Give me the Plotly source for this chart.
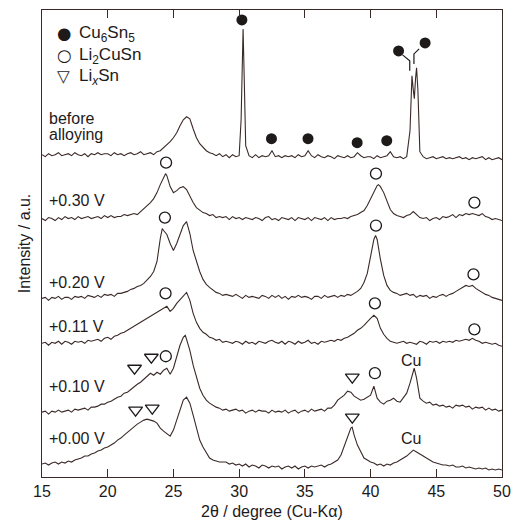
import numpy as np
import plotly.graph_objects as go

# ---------------- data ----------------
# common 2-theta sampling grid (degrees), 0.25 deg step
two_theta = np.round(np.arange(15.0, 50.0 + 1e-9, 0.25), 2)

labels = ["before", "+0.30 V", "+0.20 V", "+0.11 V", "+0.10 V", "+0.00 V"]
offsets = [318, 255, 176, 131, 62, 6]          # vertical stacking offsets (a.u.)
label_y = [359, 277, 195, 151, 91, 39]           # label heights (a.u.)

I_before = [
    5, 3, 6, 4,  5, 7, 4, 5,  6, 4, 7, 5,  4, 6, 3, 6,  5, 7, 5, 6,
    6, 4, 7, 5,  6, 4, 6, 7,  5, 6, 8, 5,  6, 7, 5, 8,  9, 12, 14, 18,
    22, 27, 34, 40,  43, 41, 31, 22,  16, 12, 9, 7,  6, 4, 6, 3,  5, 2, 5, 3,
    4, 110, 14, 4,  2, 5, 2, 4,  3, 4, 9, 3,  4, 2, 4, 3,  4, 2, 5, 3,
    4, 9, 4, 2,  5, 3, 2, 4,  3, 1, 4, 3,  2, 4, 2, 3,  7, 4, 2, 3,
    3, 1, 4, 2,  3, 4, 8, 3,  2, 3, 1, 3,  29, 70, 92, 8,  3, 1, 2, 3,
    1, 2, 3, 1,  2, 1, 2, 3,  1, 2, 0, 2,  1, 2, 3, 0,  2, 0, 1, 2,  0]
extra_tt_before = [30.15, 30.3, 30.38, 43.1, 43.15, 43.33, 43.42, 43.6, 43.68]
extra_I_before = [40, 131, 85, 74, 84, 61, 81, 70, 30]

I_030 = [
    4, 2, 5, 4,  2, 5, 3, 6,  4, 5, 3, 6,  4, 5, 6, 4,  5, 6, 4, 7,
    5, 7, 5, 6,  6, 8, 7, 8,  9, 8, 11, 13,  17, 20, 24, 30,  38, 45, 47, 36,
    30, 32, 35, 36,  33, 26, 20, 15,  12, 10, 9, 7,  8, 5, 6, 5,  6, 3, 6, 4,
    5, 3, 5, 4,  3, 5, 4, 2,  5, 6, 3, 4,  2, 5, 4, 3,  5, 2, 5, 4,
    3, 5, 2, 5,  4, 3, 5, 2,  5, 3, 4, 4,  5, 4, 6, 7,  8, 10, 12, 17,
    24, 31, 37, 36,  30, 21, 13, 9,  7, 6, 5, 7,  8, 11, 8, 5,  4, 5, 2, 4,
    5, 3, 6, 5,  6, 8, 5, 8,  7, 9, 8, 9,  8, 7, 9, 6,  5, 3, 4, 3,  2]
extra_tt_030 = [24.4, 40.6]
extra_I_030 = [49, 38]

I_020 = [
    3, 4, 1, 4,  3, 5, 2, 4,  4, 2, 5, 4,  5, 3, 6, 5,  4, 6, 4, 7,
    6, 7, 5, 8,  8, 9, 10, 12,  13, 15, 16, 18,  21, 25, 30, 40,  63, 71, 67, 58,
    51, 58, 68, 76,  80, 68, 51, 40,  30, 22, 17, 14,  11, 9, 8, 6,  7, 6, 5, 7,
    5, 3, 6, 4,  5, 4, 3, 6,  5, 3, 6, 4,  6, 3, 5, 2,  5, 4, 6, 4,
    5, 4, 2, 5,  5, 3, 6, 4,  5, 6, 4, 6,  5, 7, 6, 8,  10, 13, 19, 28,
    46, 62, 62, 42,  26, 16, 11, 9,  8, 6, 7, 8,  6, 7, 4, 6,  5, 6, 3, 5,
    4, 6, 7, 5,  7, 8, 10, 12,  14, 16, 15, 16,  13, 11, 9, 7,  6, 4, 3, 2,  1]
extra_tt_020 = [24.15, 40.38]
extra_I_020 = [73, 66]

I_011 = [
    3, 4, 1, 4,  3, 5, 2, 5,  4, 2, 5, 4,  5, 3, 6, 5,  6, 7, 5, 8,
    9, 7, 10, 11,  13, 14, 16, 18,  20, 22, 24, 26,  28, 30, 32, 34,  36, 38, 40, 35,
    38, 43, 47, 51,  54, 46, 33, 24,  18, 14, 12, 9,  8, 6, 7, 4,  5, 4, 3, 5,
    4, 2, 5, 3,  4, 2, 5, 4,  3, 5, 6, 4,  3, 5, 2, 5,  4, 2, 5, 3,
    4, 6, 3, 4,  2, 5, 4, 5,  6, 5, 7, 6,  8, 9, 11, 13,  16, 18, 21, 25,
    28, 31, 28, 18,  12, 8, 5, 4,  3, 4, 5, 3,  4, 3, 2, 5,  4, 2, 5, 4,
    5, 3, 5, 4,  5, 4, 6, 5,  6, 7, 6, 8,  6, 5, 3, 4,  3, 2, 3, 1,  0]

I_010 = [
    3, 4, 1, 4,  3, 5, 3, 4,  5, 3, 6, 5,  6, 7, 5, 8,  8, 9, 11, 11,
    13, 14, 16, 18,  19, 22, 23, 26,  28, 31, 33, 36,  38, 42, 40, 43,  41, 45, 47, 41,
    47, 60, 70, 78,  76, 65, 50, 38,  27, 20, 15, 12,  10, 8, 7, 5,  6, 4, 5, 6,
    4, 5, 2, 4,  5, 3, 5, 4,  4, 2, 5, 3,  4, 3, 5, 2,  4, 5, 2, 4,
    5, 3, 6, 4,  5, 6, 4, 7,  7, 10, 15, 18,  20, 24, 23, 19,  17, 15, 16, 18,
    20, 29, 17, 13,  11, 14, 15, 17,  14, 13, 17, 22,  32, 45, 37, 17,  14, 12, 13, 10,
    11, 9, 10, 8,  9, 7, 10, 9,  10, 8, 9, 6,  8, 7, 8, 5,  7, 5, 6, 4,  5]
extra_tt_010 = [25.9, 43.32]
extra_I_010 = [80, 47]

I_000 = [
    7, 8, 6, 8,  9, 7, 9, 8,  10, 9, 11, 12,  13, 15, 15, 17,  18, 20, 21, 23,
    24, 26, 28, 31,  33, 36, 39, 42,  45, 47, 49, 51,  52, 51, 50, 48,  43, 40, 37, 35,
    41, 51, 63, 71,  74, 68, 56, 44,  31, 24, 19, 13,  11, 10, 9, 9,  9, 7, 8, 6,
    7, 5, 7, 4,  6, 5, 3, 6,  5, 3, 5, 4,  5, 2, 4, 5,  3, 5, 2, 4,
    5, 3, 5, 4,  5, 6, 4, 6,  7, 9, 11, 16,  25, 35, 43, 36,  26, 20, 13, 11,
    9, 8, 6, 7,  5, 7, 6, 8,  9, 11, 13, 15,  18, 21, 19, 17,  15, 13, 11, 9,
    8, 7, 6, 6,  5, 6, 4, 4,  5, 3, 4, 3,  2, 3, 2, 3,  1, 2, 1, 2,  1]
extra_tt_000 = [38.6]
extra_I_000 = [44]

# phase markers (2-theta, stacked height)
cu6sn5_tt = [30.21, 32.46, 35.24, 38.98, 41.23, 42.13, 44.15]
cu6sn5_y = [458, 339, 339, 335, 337, 427, 435]
li2cusn_tt = [24.44, 40.41, 47.90, 24.35, 40.41, 47.83, 24.40, 40.33, 47.90, 24.42, 40.33]
li2cusn_y = [315, 304, 275, 260, 252, 203, 184, 174, 148, 121, 104]
lixsn_tt = [22.04, 23.32, 38.61, 22.12, 23.39, 38.61]
lixsn_y = [109, 120, 100, 67, 69, 60]
cu_tt = [43.08, 43.10]
cu_y = [117, 39]
# leader lines for the Cu6Sn5 doublet
leader_tt = [42.43, 42.98, 42.98, None, 43.70, 43.30, 43.30]
leader_y = [423, 417, 407, None, 429, 424, 414]

# key (legend) entries
key_symbols = ["●", "○", "▽"]
key_labels = ["Cu<sub>6</sub>Sn<sub>5</sub>", "Li<sub>2</sub>CuSn", "Li<sub><i>x</i></sub>Sn"]

# ---------------- figure ----------------
LINE = "#3a2a27"
INK = "#1e1a1a"
FONT = "Liberation Sans, Arial, Helvetica, sans-serif"

series = [
    (I_before, extra_tt_before, extra_I_before),
    (I_030, extra_tt_030, extra_I_030),
    (I_020, extra_tt_020, extra_I_020),
    (I_011, [], []),
    (I_010, extra_tt_010, extra_I_010),
    (I_000, extra_tt_000, extra_I_000),
]

fig = go.Figure()
for (vals, ett, eI), off, name in zip(series, offsets, labels):
    tt = np.concatenate([two_theta, np.array(ett, dtype=float)])
    ii = np.concatenate([np.array(vals, dtype=float), np.array(eI, dtype=float)])
    order = np.argsort(tt, kind="stable")
    fig.add_trace(go.Scatter(x=tt[order], y=ii[order] + off, mode="lines",
                             line=dict(color=LINE, width=1.1), showlegend=False,
                             name=name, hoverinfo="skip"))

fig.add_trace(go.Scatter(x=leader_tt, y=leader_y, mode="lines",
                         line=dict(color=INK, width=1.2), showlegend=False,
                         hoverinfo="skip"))

fig.add_trace(go.Scatter(x=cu6sn5_tt, y=cu6sn5_y, mode="markers", showlegend=False,
                         name="Cu6Sn5",
                         marker=dict(symbol="circle", size=11, color=INK)))
fig.add_trace(go.Scatter(x=li2cusn_tt, y=li2cusn_y, mode="markers", showlegend=False,
                         name="Li2CuSn",
                         marker=dict(symbol="circle-open", size=11, color=INK,
                                     line=dict(width=1.3, color=INK))))
fig.add_trace(go.Scatter(x=lixsn_tt, y=lixsn_y, mode="markers", showlegend=False,
                         name="LixSn",
                         marker=dict(symbol="triangle-down-open", size=12, color=INK,
                                     line=dict(width=1.3, color=INK))))

annotations = []
for name, y in zip(labels, label_y):
    if name == "before":
        annotations.append(dict(x=15.35, y=359, text="before", showarrow=False,
                                xanchor="left", yanchor="middle"))
        annotations.append(dict(x=15.35, y=343.5, text="alloying", showarrow=False,
                                xanchor="left", yanchor="middle"))
    else:
        annotations.append(dict(x=15.35, y=y, text=name, showarrow=False,
                                xanchor="left", yanchor="middle"))
for x, y in zip(cu_tt, cu_y):
    annotations.append(dict(x=x, y=y, text="Cu", showarrow=False,
                            xanchor="center", yanchor="middle"))
# x-axis title
annotations.append(dict(x=0.5, y=-0.074, xref="paper", yref="paper",
                        text="2θ / degree (Cu-Kα)", showarrow=False,
                        xanchor="center", yanchor="middle", font=dict(size=16)))
# key in the top-left corner
key_rows = [0.946, 0.899, 0.854]
for sym, lab, ky in zip(key_symbols, key_labels, key_rows):
    annotations.append(dict(x=0.047, y=ky + 0.004, xref="paper", yref="paper", text=sym,
                            showarrow=False, xanchor="center", yanchor="middle",
                            font=dict(family="DejaVu Sans", size=16.5, color=INK)))
    annotations.append(dict(x=0.077, y=ky + 0.002, xref="paper", yref="paper", text=lab,
                            showarrow=False, xanchor="left", yanchor="middle",
                            font=dict(size=17, color=INK)))

fig.update_layout(
    width=520, height=520,
    margin=dict(l=42, r=11, t=9, b=43),
    paper_bgcolor="white", plot_bgcolor="white",
    font=dict(family=FONT, size=16, color=INK),
    annotations=annotations,
    showlegend=False,
    xaxis=dict(range=[15, 50], tickvals=[15, 20, 25, 30, 35, 40, 45, 50],
               ticks="inside", ticklen=8, tickwidth=1, tickcolor=LINE,
               showline=True, linecolor=LINE, linewidth=1, mirror="ticks",
               showgrid=False, zeroline=False,
               tickfont=dict(size=16)),
    yaxis=dict(range=[0, 468], showticklabels=False, ticks="",
               showline=True, linecolor=LINE, linewidth=1, mirror=True,
               showgrid=False, zeroline=False,
               title=dict(text="Intensity / a.u.", font=dict(size=16), standoff=6)),
)

fig.write_html("out.html")
